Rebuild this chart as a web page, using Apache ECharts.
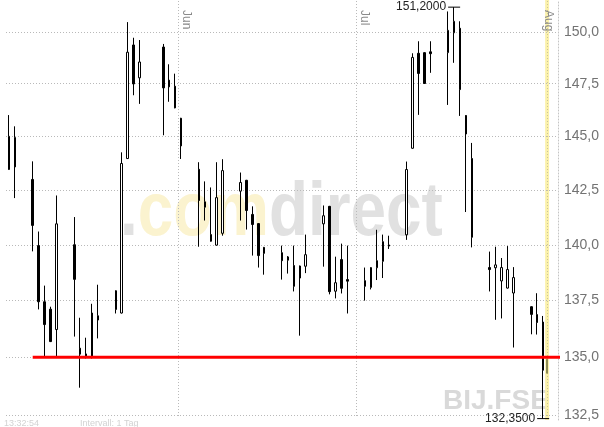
<!DOCTYPE html>
<html>
<head>
<meta charset="utf-8">
<script src="https://cdn.jsdelivr.net/npm/echarts@6/dist/echarts.min.js"></script>
<style>
html,body{margin:0;padding:0;background:#fff;}
#c{width:604px;height:427px;}
</style>
</head>
<body>
<div id="c"></div>
<script>
// ---- data ----
const tradeDays = [
  '2007-05-03','2007-05-04','2007-05-07','2007-05-08','2007-05-09','2007-05-10','2007-05-11',
  '2007-05-14','2007-05-15','2007-05-16','2007-05-17','2007-05-18','2007-05-21','2007-05-22',
  '2007-05-23','2007-05-24','2007-05-25','2007-05-29','2007-05-30','2007-05-31','2007-06-01',
  '2007-06-04','2007-06-05','2007-06-06','2007-06-07','2007-06-08','2007-06-11','2007-06-12',
  '2007-06-13','2007-06-14','2007-06-15','2007-06-18','2007-06-19','2007-06-20','2007-06-21',
  '2007-06-22','2007-06-25','2007-06-26','2007-06-27','2007-06-28','2007-06-29','2007-07-02',
  '2007-07-03','2007-07-04','2007-07-05','2007-07-06','2007-07-09','2007-07-10','2007-07-11',
  '2007-07-12','2007-07-13','2007-07-16','2007-07-17','2007-07-18','2007-07-19','2007-07-20',
  '2007-07-23','2007-07-24','2007-07-25','2007-07-26','2007-07-27','2007-07-30','2007-07-31',
  '2007-08-01'
];
const opens = [
  143.46,144.95,143.00,139.97,137.45,137.12,136.22,140.01,135.40,135.00,135.00,136.64,137.94,136.95,
  143.97,149.36,147.78,149.26,147.67,147.38,145.86,143.47,141.72,140.47,139.99,140.53,142.46,142.96,
  141.39,140.97,139.89,139.65,139.31,139.07,138.51,139.04,140.96,141.76,137.92,139.34,138.44,138.39,
  138.09,138.97,139.26,140.00,140.46,144.45,148.96,148.99,149.03,148.99,149.95,150.17,145.99,143.97,
  138.98,138.97,138.38,138.06,137.84,137.23,136.88,136.55
];
const closes = [
  145.01,143.58,140.89,137.45,136.44,135.69,140.96,138.45,135.14,135.15,136.95,136.83,137.11,143.74,
  149.01,147.49,148.54,147.30,147.35,146.35,144.56,142.03,141.97,140.17,142.16,143.41,142.86,141.57,
  140.93,139.52,139.62,139.29,139.46,138.14,139.05,139.56,141.33,137.90,138.30,138.05,138.37,138.14,
  138.98,139.29,140.15,139.95,143.46,148.76,147.99,147.51,148.94,150.07,150.51,147.22,145.12,140.35,
  138.89,139.10,138.98,138.89,138.53,136.89,136.53,134.44
];
const lows = [
  143.44,142.14,139.71,137.11,135.00,135.67,135.00,135.91,133.68,134.95,134.95,135.83,136.93,136.93,
  143.95,146.95,146.54,145.06,146.64,146.33,143.95,139.92,141.11,140.15,139.97,140.42,141.11,140.70,
  139.52,138.98,138.66,138.44,138.71,137.91,135.95,138.73,139.02,137.78,137.60,137.82,136.93,137.50,
  138.00,138.42,138.51,139.82,140.23,144.43,146.02,147.49,148.02,146.49,148.50,145.97,141.50,139.89,
  137.91,136.65,136.71,138.04,135.43,136.01,136.00,132.35
];
const highs = [
  146.01,145.48,143.84,140.61,138.17,137.23,142.26,141.27,136.74,135.86,137.36,138.21,137.96,144.26,
  150.47,149.71,149.60,149.41,148.43,147.98,145.88,143.80,142.91,142.63,143.80,143.94,143.32,142.98,
  141.76,140.99,139.91,139.97,139.50,139.97,139.07,140.47,141.80,141.78,139.47,140.06,139.97,138.98,
  139.00,140.69,140.47,140.42,143.83,148.96,149.54,149.01,149.54,150.99,151.20,150.51,146.01,144.70,
  139.70,139.92,139.41,139.95,139.00,137.25,137.83,136.82
];
// latest (intraday) quote of the running day: open, close, low, high
const intradayDay = '2007-08-02 04:00';
const intradayOHLC = [134.92, 134.31, 134.31, 134.92];
// horizontal support line
const supportLevel = 135.0;
const supportFrom = '2007-05-07 12:00';
const supportTo = '2007-08-12';
// axes
const xMin = '2007-05-03';
const xMax = '2007-08-04';
const yMin = 132.29;
const yMax = 151.55;
const yTicks = [132.5, 135.0, 137.5, 140.0, 142.5, 145.0, 147.5, 150.0];
const monthStarts = ['2007-06-01', '2007-07-01', '2007-08-01'];
const monthNames = ['Jun', 'Jul', 'Aug'];
const monthLineShown = [true, true, false];
const todayBand = ['2007-08-01 20:00', '2007-08-02 12:00'];

// ---- chart ----
const FONT = '"Liberation Sans", Arial, sans-serif';
const fmtComma = (v, d) => v.toFixed(d).replace('.', ',');
const candles = tradeDays.map((d, i) => [d + ' 12:00', opens[i], closes[i], lows[i], highs[i]]);
const gridStyle = {color: '#b9b9b9', width: 1, type: [1, 2]};

const yLines = yTicks.map(v => ({
  yAxis: v,
  lineStyle: gridStyle,
  label: {show: true, position: 'end', distance: 6, color: '#737373', fontSize: 14, fontFamily: FONT,
          formatter: p => fmtComma(p.value, 1)}
}));
const monthLines = monthStarts.map((m, i) => [
  {coord: [m, 151.5],
   lineStyle: monthLineShown[i] ? gridStyle : {color: 'rgba(255,255,255,0)', width: 1},
   label: {show: true, position: 'insideStartTop', distance: [9, 2], color: '#8a8a8a', fontSize: 12,
           fontFamily: FONT, formatter: monthNames[i]}},
  {coord: [m, 132.4]}
]);
const todayLine = [{coord: [intradayDay, 151.5], lineStyle: {color: '#c9c49a', width: 1, type: [1, 2]}, label: {show: false}},
                   {coord: [intradayDay, 132.4]}];

const chart = echarts.init(document.getElementById('c'));
chart.setOption({
  animation: false,
  backgroundColor: '#ffffff',
  grid: {left: 6, right: 46, top: 0, bottom: 7},
  xAxis: {
    type: 'time', min: xMin, max: xMax,
    axisLine: {show: false}, axisTick: {show: false}, axisLabel: {show: false}, splitLine: {show: false}
  },
  yAxis: {
    type: 'log', logBase: 10, min: yMin, max: yMax, position: 'right',
    axisLine: {show: true, lineStyle: {color: '#c4c4c4', width: 1, type: [1, 2]}},
    axisTick: {show: false}, axisLabel: {show: false}, splitLine: {show: false}
  },
  graphic: [
    {type: 'text', x: 120, y: 214, scaleX: 0.84, z: 0, silent: true,
     style: {text: '{g|.}{y|com}{g|direct}', font: 'bold 76px ' + FONT, verticalAlign: 'middle',
             rich: {g: {fill: '#e1e1e1', font: 'bold 76px ' + FONT}, y: {fill: '#fbf3cf', font: 'bold 76px ' + FONT}}}},
    {type: 'text', x: 443, y: 401, z: 0, silent: true,
     style: {text: 'BIJ.FSE', font: 'bold 28px ' + FONT, fill: '#d9d9d9', verticalAlign: 'middle'}},
    {type: 'text', x: 4, y: 424, z: 0, silent: true,
     style: {text: '13:32:54', font: '9px ' + FONT, fill: '#d2d2d2', verticalAlign: 'middle'}},
    {type: 'text', x: 80, y: 424, z: 0, silent: true,
     style: {text: 'Intervall: 1 Tag', font: '9px ' + FONT, fill: '#d2d2d2', verticalAlign: 'middle'}}
  ],
  series: [
    {
      type: 'candlestick', name: 'BIJ.FSE', data: candles, barWidth: 2, z: 3,
      itemStyle: {color: '#ffffff', color0: '#000000', borderColor: '#000000', borderColor0: '#000000', borderWidth: 1},
      markArea: {silent: true, z: 0, itemStyle: {color: '#fbf1ab'},
                 data: [[{xAxis: todayBand[0]}, {xAxis: todayBand[1]}]]},
      markLine: {silent: true, z: 1, symbol: ['none', 'none'], animation: false,
                 data: [...yLines, ...monthLines, todayLine]},
      markPoint: {
        silent: true, z: 6, symbol: 'rect', symbolSize: [12, 1],
        itemStyle: {color: '#000'},
        label: {show: true, position: 'left', distance: 2, color: '#222', fontSize: 12, fontFamily: FONT,
                formatter: p => fmtComma(p.value, 4)},
        data: [{type: 'max', valueDim: 'highest'}, {type: 'min', valueDim: 'lowest'}]
      }
    },
    {
      type: 'candlestick', name: 'intraday', barWidth: 2, z: 3,
      data: [[intradayDay, ...intradayOHLC]],
      itemStyle: {color: '#8d8b55', color0: '#8d8b55', borderColor: '#8d8b55', borderColor0: '#8d8b55', borderWidth: 1}
    },
    {
      type: 'line', name: 'support', silent: true, clip: false, symbol: 'none', z: 8,
      data: [[supportFrom, supportLevel], [supportTo, supportLevel]],
      lineStyle: {color: '#ff0000', width: 3}
    }
  ]
});
</script>
</body>
</html>
